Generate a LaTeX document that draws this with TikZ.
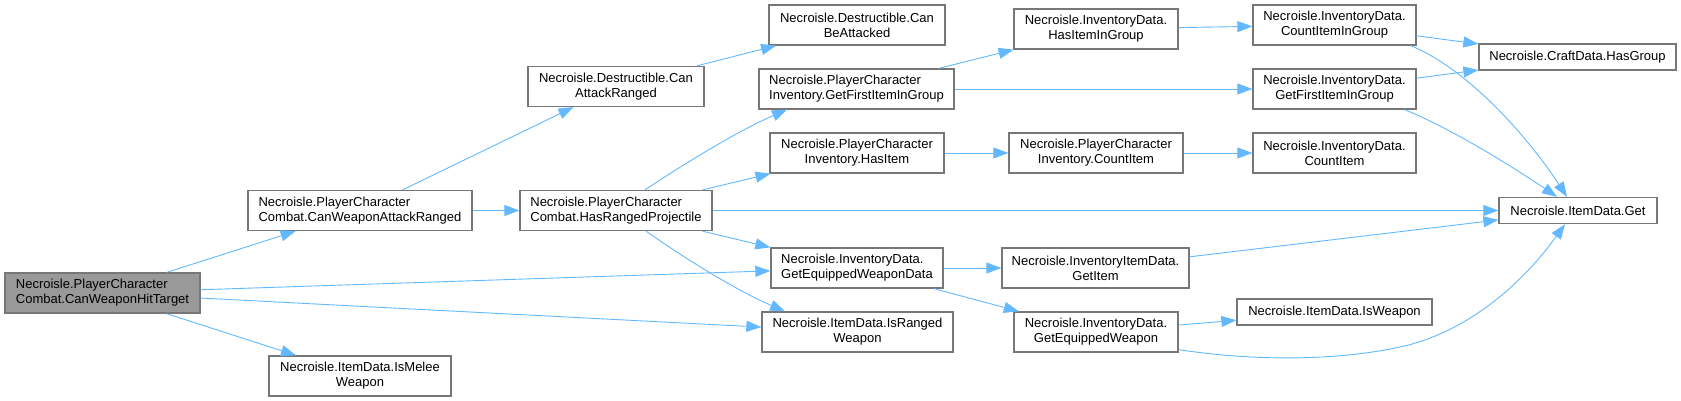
\documentclass[tikz,border=0pt]{standalone}
\usepackage{fontspec}
\setmainfont{Liberation Sans}
\usetikzlibrary{arrows.meta}
\definecolor{edgeblue}{HTML}{63B8FF}
\definecolor{boxline}{HTML}{777777}
\definecolor{rootfill}{HTML}{999999}
\tikzset{
  box/.style={draw=boxline, line width=1.3pt, fill=white, inner sep=0pt, align=center,
    font=\fontsize{13}{15}\selectfont, text=black, minimum height=40pt},
  lbox/.style={box, align=left},
  sbox/.style={box, minimum height=26pt},
  link/.style={draw=edgeblue, line width=0.9pt, -{Triangle[length=15pt,width=11pt]}}
}
\begin{document}
\begin{tikzpicture}[x=1pt, y=-1pt]
\useasboundingbox (0,0) rectangle (1681,401);
% column 0
\node[lbox, fill=rootfill, minimum width=195pt] (root) at (102.5,293) {Necroisle.PlayerCharacter\\Combat.CanWeaponHitTarget};
% column 1
\node[lbox, minimum width=224pt] (cwar) at (360,210.5) {Necroisle.PlayerCharacter\\Combat.CanWeaponAttackRanged};
\node[box, minimum width=182pt] (imw) at (360,376) {Necroisle.ItemData.IsMelee\\Weapon};
% column 2
\node[box, minimum width=176pt] (car) at (616,86.5) {Necroisle.Destructible.Can\\AttackRanged};
\node[lbox, minimum width=192pt] (hrp) at (616,210.5) {Necroisle.PlayerCharacter\\Combat.HasRangedProjectile};
% column 3
\node[box, minimum width=176pt] (cba) at (857,25) {Necroisle.Destructible.Can\\BeAttacked};
\node[lbox, minimum width=195pt] (pgf) at (856.5,89) {Necroisle.PlayerCharacter\\Inventory.GetFirstItemInGroup};
\node[box, minimum width=174pt] (phi) at (857,153) {Necroisle.PlayerCharacter\\Inventory.HasItem};
\node[lbox, minimum width=172pt] (gewd) at (857,268) {Necroisle.InventoryData.\\GetEquippedWeaponData};
\node[box, minimum width=191pt] (irw) at (857.5,332) {Necroisle.ItemData.IsRanged\\Weapon};
% column 4
\node[box, minimum width=164pt] (ihg) at (1096,29) {Necroisle.InventoryData.\\HasItemInGroup};
\node[box, minimum width=174pt] (pci) at (1096,153) {Necroisle.PlayerCharacter\\Inventory.CountItem};
\node[box, minimum width=187pt] (gi) at (1095.5,268) {Necroisle.InventoryItemData.\\GetItem};
\node[box, minimum width=164pt] (gew) at (1096,332) {Necroisle.InventoryData.\\GetEquippedWeapon};
% column 5
\node[box, minimum width=163pt] (cig) at (1334.5,25) {Necroisle.InventoryData.\\CountItemInGroup};
\node[box, minimum width=163pt] (igf) at (1334.5,89) {Necroisle.InventoryData.\\GetFirstItemInGroup};
\node[box, minimum width=163pt] (ici) at (1334.5,153) {Necroisle.InventoryData.\\CountItem};
\node[sbox, minimum width=195pt] (iw) at (1334.5,312) {Necroisle.ItemData.IsWeapon};
% column 6
\node[sbox, minimum width=197pt] (hg) at (1577.5,57) {Necroisle.CraftData.HasGroup};
\node[sbox, minimum width=158pt] (get) at (1578,210.5) {Necroisle.ItemData.Get};
% edges
\path[link] (root) -- (cwar);
\path[link] (root) -- (gewd);
\path[link] (root) -- (irw);
\path[link] (root) -- (imw);
\path[link] (cwar) -- (car);
\path[link] (cwar) -- (hrp);
\path[link] (car) -- (cba);
\path[link] ([xshift=29pt]hrp.north) .. controls (690,160) and (740,130) .. ([xshift=-69.5pt]pgf.south);
\path[link] (hrp) -- (phi);
\path[link] (hrp) -- (get);
\path[link] (hrp) -- (gewd);
\path[link] ([xshift=30pt]hrp.south) .. controls (690,262) and (740,292) .. ([xshift=-72.5pt]irw.north);
\path[link] (pgf) -- (ihg);
\path[link] (pgf) -- (igf);
\path[link] (ihg) -- (cig);
\path[link] (cig) -- (hg);
\path[link] ([xshift=-6pt]cig.south east) .. controls (1470,70) and (1530,140) .. ([xshift=-11pt]get.north);
\path[link] (igf) -- (hg);
\path[link] ([xshift=-12pt]igf.south east) .. controls (1450,128) and (1510,165) .. ([xshift=-21pt]get.north);
\path[link] (phi) -- (pci);
\path[link] (pci) -- (ici);
\path[link] (gewd) -- (gi);
\path[link] (gewd) -- (gew);
\path[link] (gi) -- (get);
\path[link] (gew) -- (iw);
\path[link] ([yshift=3pt]gew.south east) .. controls (1260,362) and (1340,360) .. (1400,347) .. controls (1470,332) and (1525,280) .. ([xshift=-13pt]get.south);
\end{tikzpicture}
\end{document}
